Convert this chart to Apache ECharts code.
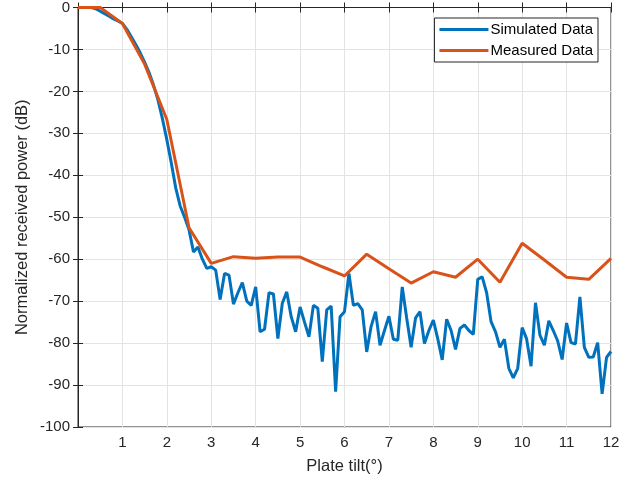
<!DOCTYPE html>
<html>
<head>
<meta charset="utf-8">
<script src="https://cdn.jsdelivr.net/npm/echarts@6/dist/echarts.min.js"></script>
<style>
  html, body { margin: 0; padding: 0; background: #fff; }
  #main { width: 637px; height: 480px; }
</style>
</head>
<body>
<div id="main"></div>
<script>
// tilt step for the simulated curve is 0.1 deg, measured one is 0.5 deg
var simStep = 0.1;
var simulated = [
  0, 0, 0, 0, -0.3, -0.9, -1.5, -2.1, -2.7, -3.2,
  -3.8, -5.2, -7, -8.8, -10.8, -13, -15.5, -18.5, -22, -26.5,
  -31.5, -37, -43, -47.3, -50, -53, -58.3, -57.1, -60, -62.2,
  -61.8, -62.6, -69.6, -63.4, -63.8, -70.7, -68, -65.6, -70, -71,
  -66.6, -77.3, -76.7, -68, -68.3, -78.9, -70.5, -67.8, -73.7, -77.3,
  -71.4, -75, -78.5, -71, -71.7, -84.4, -72.1, -71.2, -91.6, -73.7,
  -72.5, -63.4, -71, -70.6, -72.1, -82.1, -76, -72.5, -80.5, -77,
  -73.6, -79.1, -79.3, -66.6, -74, -81, -74, -72.5, -80.1, -77,
  -74.5, -79, -84, -74.3, -77, -81.5, -76.5, -75.7, -77, -77.9,
  -64.8, -64.2, -68, -74.9, -77.3, -81, -79.1, -86, -88.3, -86,
  -76.3, -79, -85.5, -70.4, -78.1, -80.5, -74.7, -77, -79.5, -83.9,
  -75.2, -79.9, -80.2, -69, -81, -83.4, -83.3, -79.9, -92.1, -83.4,
  -82
];
var measTilt = [0, 0.5, 1, 1.5, 2, 2.5, 3, 3.5, 4, 4.5, 5, 5.5, 6, 6.5, 7, 7.5, 8, 8.5, 9, 9.5, 10, 10.5, 11, 11.5, 12];
var measured = [0, 0, -3.8, -13.5, -26.7, -52.5, -61, -59.4, -59.8, -59.5, -59.5, -61.8, -64, -58.8, -62.3, -65.7, -63, -64.3, -60, -65.5, -56.2, -60.2, -64.3, -64.8, -59.8];
var seriesNames = ['Simulated Data', 'Measured Data'];

var simData = simulated.map(function (v, i) { return [+(i * simStep).toFixed(1), v]; });
var measData = measured.map(function (v, i) { return [measTilt[i], v]; });

var myChart = echarts.init(document.getElementById('main'));
var axisCol = '#262626';
var gridCol = '#e3e3e3';
var fnt = '"Liberation Sans", Arial, sans-serif';

option = {
  animation: false,
  textStyle: { fontFamily: fnt },
  grid: { left: 78, right: 26, top: 7, bottom: 52, show: true, borderColor: axisCol, borderWidth: 1 },
  legend: {
    data: seriesNames,
    orient: 'vertical',
    right: 39,
    top: 18,
    icon: 'rect',
    itemWidth: 49,
    itemHeight: 3,
    itemGap: 6,
    padding: [4, 5, 4, 5],
    backgroundColor: '#fff',
    borderColor: '#262626',
    borderWidth: 1,
    textStyle: { fontSize: 15, color: '#000', fontFamily: fnt, padding: [0, 0, 0, -3] }
  },
  xAxis: [{
    type: 'value', min: 0, max: 12, interval: 1,
    name: 'Plate tilt(°)', nameLocation: 'middle', nameGap: 31,
    nameTextStyle: { fontSize: 16.5, color: axisCol },
    axisLine: { lineStyle: { color: axisCol } },
    axisTick: { inside: true, length: 5, lineStyle: { color: axisCol } },
    axisLabel: { fontSize: 15, color: axisCol, margin: 8,
      formatter: function (v) { return v === 0 ? '' : v; } },
    splitLine: { show: true, lineStyle: { color: gridCol } }
  }, {
    type: 'value', min: 0, max: 12, interval: 1, position: 'top',
    axisLine: { lineStyle: { color: axisCol } },
    axisTick: { inside: true, length: 5, lineStyle: { color: axisCol } },
    axisLabel: { show: false }, splitLine: { show: false }
  }],
  yAxis: [{
    type: 'value', min: -100, max: 0, interval: 10,
    name: 'Normalized received power (dB)', nameLocation: 'middle', nameGap: 47,
    nameMoveOverlap: false,
    nameTextStyle: { fontSize: 16.5, color: axisCol },
    axisLine: { show: true, lineStyle: { color: axisCol } },
    axisTick: { show: true, inside: true, length: 5, lineStyle: { color: axisCol } },
    axisLabel: { fontSize: 15, color: axisCol, margin: 8 },
    splitLine: { show: true, lineStyle: { color: gridCol } }
  }, {
    type: 'value', min: -100, max: 0, interval: 10, position: 'right',
    axisLine: { show: true, lineStyle: { color: axisCol } },
    axisTick: { show: true, inside: true, length: 5, lineStyle: { color: axisCol } },
    axisLabel: { show: false }, splitLine: { show: false }
  }],
  series: [{
    name: seriesNames[0], type: 'line', data: simData,
    symbol: 'none', color: '#0072BD',
    lineStyle: { width: 3, color: '#0072BD' }
  }, {
    name: seriesNames[1], type: 'line', data: measData,
    symbol: 'none', color: '#D95319',
    lineStyle: { width: 3, color: '#D95319' }
  }]
};

myChart.setOption(option);
</script>
</body>
</html>
